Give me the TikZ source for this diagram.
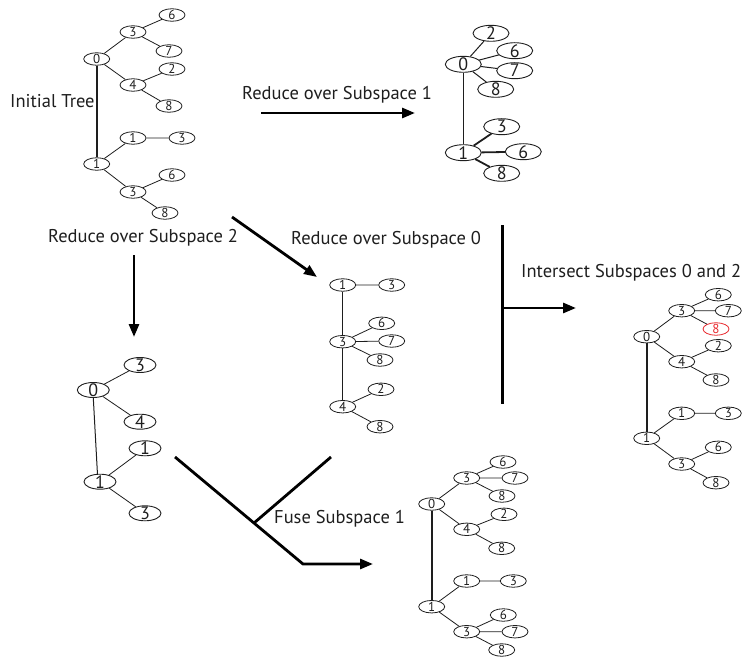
\documentclass[tikz,border=0pt]{standalone}
\usepackage{fontspec}
\setmainfont{PT Sans}
\usetikzlibrary{shapes.geometric,arrows.meta}
\definecolor{ink}{HTML}{1E1E1E}
\definecolor{hilite}{HTML}{E8282D}
% digit centred vertically on the node centre
\newcommand{\digitlbl}[1]{\smash{\raisebox{-.5\height}{#1}}}
\tikzset{
  x=1pt, y=-1pt,
  leaf/.style={draw=ink, text=ink, shape=ellipse, inner sep=0pt, line width=0.8pt,
    minimum width=26pt, minimum height=12.5pt, font=\fontsize{13}{13}\selectfont},
  bigleaf/.style={leaf, minimum width=36pt, minimum height=16pt, line width=0.9pt,
    font=\fontsize{18}{18}\selectfont},
  midleaf/.style={leaf, minimum width=32pt, minimum height=15pt, line width=0.9pt,
    font=\fontsize{18}{18}\selectfont},
  marked/.style={draw=hilite, text=hilite},
  edge/.style={draw=ink, line width=0.8pt},
  trunk/.style={draw=ink, line width=1.6pt},
  flow/.style={draw=black, line width=2.8pt},
  flowarrow/.style={flow, -{Triangle[length=13pt,width=10pt]}},
  caption/.style={anchor=west, inner sep=0pt, text=ink, font=\fontsize{18.5}{20}\selectfont},
}
\newcommand{\tn}[4][leaf]{\node[#1] (#2) at #3 {\digitlbl{#4}};}
\begin{document}
\begin{tikzpicture}
\useasboundingbox (0,0) rectangle (743,660);

% ---------- initial tree ----------
\tn{t1r0}{(96.7,59)}{0}
\tn{t1a3}{(133,32)}{3}
\tn{t1a6}{(172,15)}{6}
\tn{t1a7}{(169,51)}{7}
\tn{t1a4}{(133,85)}{4}
\tn{t1a2}{(172,69)}{2}
\tn{t1a8}{(169,106)}{8}
\tn{t1r1}{(96.7,164)}{1}
\tn{t1b1}{(133,138)}{1}
\tn{t1b3}{(182,138)}{3}
\tn{t1c3}{(133,192)}{3}
\tn{t1c6}{(172,175)}{6}
\tn{t1c8}{(165,213)}{8}
\draw[trunk] (t1r0) -- (t1r1);
\draw[edge] (t1r0)--(t1a3) (t1a3)--(t1a6) (t1a3)--(t1a7)
            (t1r0)--(t1a4) (t1a4)--(t1a2) (t1a4)--(t1a8)
            (t1r1)--(t1b1) (t1b1)--(t1b3)
            (t1r1)--(t1c3) (t1c3)--(t1c6) (t1c3)--(t1c8);

% ---------- reduced over subspace 1 ----------
\tn[bigleaf]{t2r0}{(463.3,64.3)}{0}
\tn[bigleaf]{t2a2}{(491,33.3)}{2}
\tn[bigleaf]{t2a6}{(514.7,50.7)}{6}
\tn[bigleaf]{t2a7}{(514.7,70.7)}{7}
\tn[bigleaf]{t2a8}{(495.7,89.3)}{8}
\tn[bigleaf]{t2r1}{(463.3,152.7)}{1}
\tn[bigleaf]{t2b3}{(501.7,126.7)}{3}
\tn[bigleaf]{t2b6}{(523.3,151.7)}{6}
\tn[bigleaf]{t2b8}{(501.7,173.3)}{8}
\draw[trunk, line width=1.4pt] (t2r0) -- (t2r1);
\draw[edge, line width=1pt] (t2r0)--(t2a2) (t2r0)--(t2a6) (t2r0)--(t2a7) (t2r0)--(t2a8);
\draw[trunk, line width=1.8pt] (t2r1)--(t2b3) (t2r1)--(t2b6) (t2r1)--(t2b8);

% ---------- reduced over subspace 0 ----------
\tn{t3r1}{(342.7,285)}{1}
\tn{t3a3}{(391.7,285)}{3}
\tn{t3m3}{(342.7,341.7)}{3}
\tn{t3m6}{(381.7,323.3)}{6}
\tn{t3m7}{(391.7,341)}{7}
\tn{t3m8}{(380,360)}{8}
\tn{t3r4}{(342.7,406.7)}{4}
\tn{t3b2}{(381,389.3)}{2}
\tn{t3b8}{(380,426.7)}{8}
\draw[trunk, line width=1.3pt] (t3r1) -- (t3m3) (t3m3) -- (t3r4);
\draw[edge] (t3r1)--(t3a3)
            (t3m3)--(t3m6) (t3m3)--(t3m7) (t3m3)--(t3m8)
            (t3r4)--(t3b2) (t3r4)--(t3b8);

% ---------- intersection of subspaces 0 and 2 ----------
\tn{t4r0}{(646.7,336.7)}{0}
\tn{t4a3}{(681.7,310.7)}{3}
\tn{t4a6}{(718.3,294.7)}{6}
\tn{t4a7}{(728.3,310.7)}{7}
\tn[leaf,marked]{t4a8}{(716,329)}{8}
\tn{t4a4}{(681.7,361.7)}{4}
\tn{t4a2}{(718.3,345.7)}{2}
\tn{t4a9}{(716,380)}{8}
\tn{t4r1}{(646.7,438.3)}{1}
\tn{t4b1}{(681.7,413.3)}{1}
\tn{t4b3}{(728.3,413.3)}{3}
\tn{t4c3}{(681.7,464)}{3}
\tn{t4c6}{(718.3,447.3)}{6}
\tn{t4c8}{(716,482.7)}{8}
\draw[trunk] (t4r0) -- (t4r1);
\draw[edge] (t4r0)--(t4a3) (t4a3)--(t4a6) (t4a3)--(t4a7) (t4a3)--(t4a8)
            (t4r0)--(t4a4) (t4a4)--(t4a2) (t4a4)--(t4a9)
            (t4r1)--(t4b1) (t4b1)--(t4b3)
            (t4r1)--(t4c3) (t4c3)--(t4c6) (t4c3)--(t4c8);

% ---------- reduced over subspace 2 ----------
\tn[midleaf]{t5r0}{(93.3,390)}{0}
\tn[midleaf]{t5a3}{(140,365)}{3}
\tn[midleaf]{t5a4}{(140,421.7)}{4}
\tn[midleaf]{t5r1}{(100,481.7)}{1}
\tn[midleaf]{t5b1}{(145,448.3)}{1}
\tn[midleaf]{t5b3}{(145,513.3)}{3}
\draw[edge, line width=1pt] (t5r0.south) -- (t5r1.108);
\draw[edge] (t5r0)--(t5a3) (t5r0)--(t5a4) (t5r1)--(t5b1) (t5r1)--(t5b3);

% ---------- fused result ----------
\tn{t6r0}{(431.7,504)}{0}
\tn{t6a3}{(466.7,478)}{3}
\tn{t6a6}{(503,462)}{6}
\tn{t6a7}{(515,478)}{7}
\tn{t6a8}{(502,496)}{8}
\tn{t6a4}{(466.7,529.3)}{4}
\tn{t6a2}{(504,514.3)}{2}
\tn{t6a9}{(501.7,548.3)}{8}
\tn{t6r1}{(431.7,606.7)}{1}
\tn{t6b1}{(466.7,581)}{1}
\tn{t6b3}{(513.3,581)}{3}
\tn{t6c3}{(466.7,631.7)}{3}
\tn{t6c6}{(503.3,615)}{6}
\tn{t6c7}{(515,631.7)}{7}
\tn{t6c8}{(501.7,650)}{8}
\draw[trunk] (t6r0) -- (t6r1);
\draw[edge] (t6r0)--(t6a3) (t6a3)--(t6a6) (t6a3)--(t6a7) (t6a3)--(t6a8)
            (t6r0)--(t6a4) (t6a4)--(t6a2) (t6a4)--(t6a9)
            (t6r1)--(t6b1) (t6b1)--(t6b3)
            (t6r1)--(t6c3) (t6c3)--(t6c6) (t6c3)--(t6c7) (t6c3)--(t6c8);

% ---------- captions ----------
\node[caption] (capInit) at (10,101) {Initial Tree};
\node[caption] (capS1) at (242,95) {Reduce over Subspace 1};
\node[caption] (capS2) at (48,238) {Reduce over Subspace 2};
\node[caption] (capS0) at (291,240) {Reduce over Subspace 0};
\node[caption] (capInt) at (521,273) {Intersect Subspaces 0 and 2};
\node[caption] (capFuse) at (274,519) {Fuse Subspace 1};

% ---------- operation arrows ----------
\coordinate (s1a) at (261,113);  \coordinate (s1b) at (415,113);
\draw[flowarrow] (s1a) -- (s1b);

\coordinate (s0a) at (232,217);  \coordinate (s0b) at (317,277);
\draw[flowarrow] (s0a) -- (s0b);

\coordinate (s2a) at (134,255);  \coordinate (s2b) at (134,337);
\draw[flowarrow] (s2a) -- (s2b);

\coordinate (inTop) at (502.7,225); \coordinate (inBot) at (502.7,404);
\coordinate (inMid) at (502.7,308); \coordinate (inEnd) at (576,308);
\draw[flow] (inTop) -- (inBot);
\draw[flowarrow] (inMid) -- (inEnd);

\coordinate (fuA) at (175,457); \coordinate (fuB) at (331,457);
\coordinate (fuJ) at (254,523); \coordinate (fuK) at (303,564);
\coordinate (fuEnd) at (373,564);
\draw[flow] (fuB) -- (fuJ);
\draw[flowarrow] (fuA) -- (fuK) -- (fuEnd);
\end{tikzpicture}
\end{document}
